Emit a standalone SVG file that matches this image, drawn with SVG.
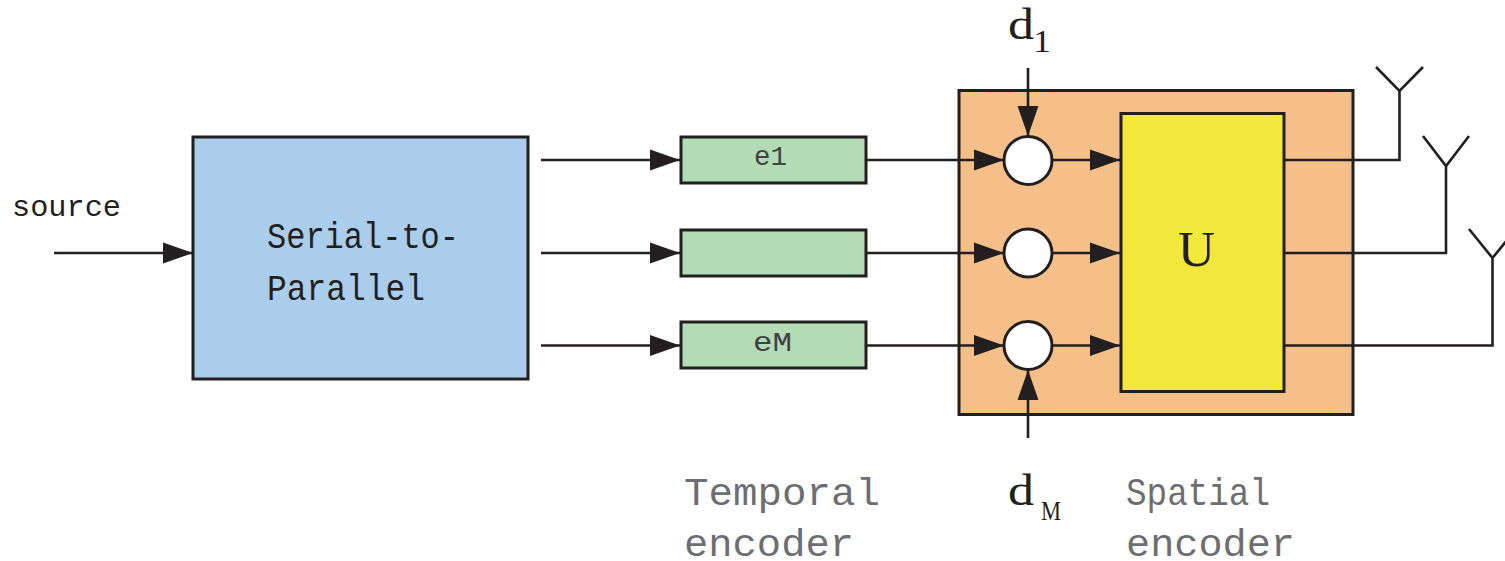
<svg xmlns="http://www.w3.org/2000/svg" width="1505" height="561" viewBox="0 0 1505 561">
<style>
.box{stroke:#231f20;stroke-width:3}
.wire{fill:none;stroke:#231f20;stroke-width:2.6}
.arr{marker-end:url(#ah)}
text{font-family:"Liberation Mono","DejaVu Sans Mono",monospace;fill:#231f20}
.s{font-family:"Liberation Serif","DejaVu Serif",serif}
.g{fill:#6d6e71;font-size:38px}
.m{fill:#414042;font-size:28px}
</style>
<defs>
<marker id="ah" markerUnits="userSpaceOnUse" markerWidth="32" markerHeight="24" viewBox="0 0 32 24" refX="32" refY="12" orient="auto">
<path d="M2 1.500L32 12L2 22.500Z" fill="#231f20"/>
</marker>
</defs>
<rect width="1505" height="561" fill="#fff"/>
<g id="spatial-encoder"><rect class="box" x="959" y="90.500" width="394" height="324" fill="#f5bf8a"/></g>
<g id="serial-to-parallel"><rect class="box" x="193" y="137" width="335" height="242" fill="#aacdec"/>
<text x="267" y="248" font-size="37" textLength="192" lengthAdjust="spacingAndGlyphs">Serial-to-</text>
<text x="267" y="300" font-size="37" textLength="158" lengthAdjust="spacingAndGlyphs">Parallel</text></g>
<g id="source-label"><text x="12" y="216" font-size="29" textLength="109" lengthAdjust="spacingAndGlyphs">source</text></g>
<g id="temporal-1"><rect class="box" x="681" y="137" width="185" height="46" fill="#b3dbb5"/><text class="m" x="754" y="165" textLength="33" lengthAdjust="spacingAndGlyphs">e1</text></g>
<g id="temporal-2"><rect class="box" x="681" y="230" width="185" height="46" fill="#b3dbb5"/></g>
<g id="temporal-3"><rect class="box" x="681" y="322" width="185" height="46" fill="#b3dbb5"/><text class="m" x="753" y="351" textLength="39" lengthAdjust="spacingAndGlyphs">eM</text></g>
<g id="unitary"><rect class="box" x="1121" y="113.500" width="163" height="278" fill="#f2e83c"/><text class="s" x="1178" y="266" font-size="50" textLength="37" lengthAdjust="spacingAndGlyphs">U</text></g>
<g id="adder-1"><circle class="box" cx="1028" cy="160.500" r="24" fill="#fff"/></g>
<g id="adder-2"><circle class="box" cx="1028" cy="253" r="24" fill="#fff"/></g>
<g id="adder-3"><circle class="box" cx="1028" cy="345.500" r="24" fill="#fff"/></g>
<g id="connectors">
<path class="wire arr" d="M54 253H193"/>
<path class="wire arr" d="M541 160H680"/>
<path class="wire arr" d="M541 253H680"/>
<path class="wire arr" d="M541 345.500H680"/>
<path class="wire arr" d="M866 160H1004"/>
<path class="wire arr" d="M866 253H1004"/>
<path class="wire arr" d="M866 345.500H1004"/>
<path class="wire arr" d="M1052 160H1120"/>
<path class="wire arr" d="M1052 253H1120"/>
<path class="wire arr" d="M1052 345.500H1120"/>
<path class="wire arr" d="M1028 68V136"/>
<path class="wire arr" d="M1028 438V370"/>
<path class="wire" d="M1284 160H1399.500V91M1376 67L1399.500 91L1423 67"/>
<path class="wire" d="M1284 253H1446V166M1423 136L1446 166L1469 136"/>
<path class="wire" d="M1284 345.500H1492.500V258M1469 229L1492.500 258L1516 229"/>
</g>
<g id="labels">
<text class="s" x="1008" y="39" font-size="44" textLength="26" lengthAdjust="spacingAndGlyphs">d</text>
<text class="s" x="1033" y="52" font-size="32" textLength="18" lengthAdjust="spacingAndGlyphs">1</text>
<text class="s" x="1008" y="505" font-size="44" textLength="26" lengthAdjust="spacingAndGlyphs">d</text>
<text class="s" x="1041" y="520" font-size="27" textLength="20" lengthAdjust="spacingAndGlyphs">M</text>
<text class="g" x="684" y="505" textLength="196" lengthAdjust="spacingAndGlyphs">Temporal</text>
<text class="g" x="684" y="556" textLength="170" lengthAdjust="spacingAndGlyphs">encoder</text>
<text class="g" x="1126" y="505" textLength="144" lengthAdjust="spacingAndGlyphs">Spatial</text>
<text class="g" x="1126" y="556" textLength="169" lengthAdjust="spacingAndGlyphs">encoder</text>
</g>
</svg>
